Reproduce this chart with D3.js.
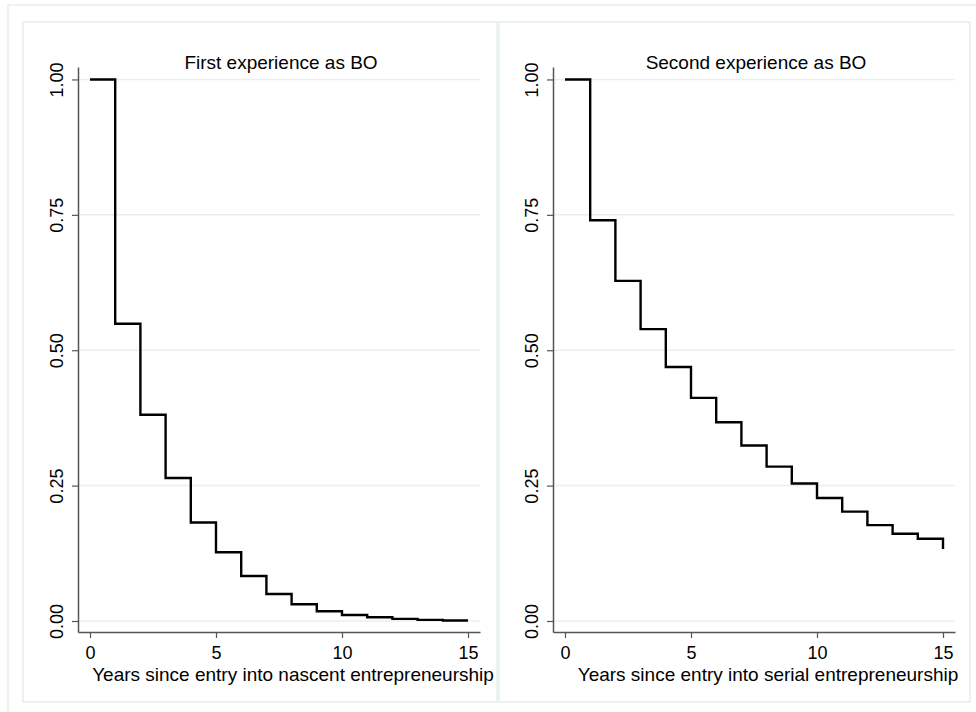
<!DOCTYPE html>
<html>
<head>
<meta charset="utf-8">
<script src="https://cdn.jsdelivr.net/npm/d3@7"></script>
<style>
  body { margin: 0; background: #fff; }
  text { font-family: "Liberation Sans", Arial, sans-serif; fill: #000; }
</style>
</head>
<body>
<script>
// values
const years = [0, 1, 2, 3, 4, 5, 6, 7, 8, 9, 10, 11, 12, 13, 14, 15];
const firstSurv = [1.000, 0.549, 0.381, 0.264, 0.182, 0.127, 0.083, 0.050, 0.031, 0.018, 0.011, 0.007, 0.004, 0.002, 0.001, 0.001];
const secondSurv = [1.000, 0.740, 0.628, 0.539, 0.469, 0.412, 0.367, 0.324, 0.285, 0.254, 0.227, 0.202, 0.177, 0.161, 0.152, 0.133];
const yTicks = [0, 0.25, 0.5, 0.75, 1];
const xTicks = [0, 5, 10, 15];
const titles = ["First experience as BO", "Second experience as BO"];
const xTitles = ["Years since entry into nascent entrepreneurship", "Years since entry into serial entrepreneurship"];

const WIDTH = 976, HEIGHT = 712;
const frameColor = "#e6edf0";

const svg = d3.select("body").append("svg")
    .attr("width", WIDTH)
    .attr("height", HEIGHT);

// outer frame (only top / left visible)
svg.append("rect")
    .attr("x", 8).attr("y", 5)
    .attr("width", WIDTH + 20).attr("height", HEIGHT + 20)
    .attr("fill", "none").attr("stroke", frameColor).attr("stroke-width", 1.5);

const panels = [
  {frame: [23, 22, 474, 680], left: 78, values: firstSurv},
  {frame: [499, 22, 471, 680], left: 553, values: secondSurv}
];

const PLOT_W = 402, TOP = 67, BOTTOM = 632;

panels.forEach((p, k) => {
  // panel frame
  svg.append("rect")
      .attr("x", p.frame[0]).attr("y", p.frame[1])
      .attr("width", p.frame[2]).attr("height", p.frame[3])
      .attr("fill", "#fff").attr("stroke", frameColor).attr("stroke-width", 1.5);

  const xScale = d3.scaleLinear()
      .domain([-0.476, 15.476])
      .range([p.left, p.left + PLOT_W]);

  const yScale = d3.scaleLinear()
      .domain([-0.0203, 1.023])
      .range([BOTTOM, TOP]);

  const g = svg.append("g");

  // gridlines
  g.selectAll(".grid")
    .data(yTicks)
    .enter()
    .append("line")
      .attr("x1", p.left).attr("x2", p.left + PLOT_W)
      .attr("y1", d => yScale(d)).attr("y2", d => yScale(d))
      .attr("stroke", "#e8eff1").attr("stroke-width", 1.5);

  // y-axis
  const yAxis = g.append("g")
      .attr("transform", "translate(" + p.left + ",0)")
      .call(d3.axisLeft(yScale).tickValues(yTicks).tickFormat(d3.format(".2f")).tickSize(6).tickSizeOuter(0));

  yAxis.selectAll("text")
      .attr("x", 0).attr("y", 0).attr("dy", 0)
      .attr("transform", "translate(-15,0) rotate(-90)")
      .attr("text-anchor", "middle")
      .style("font-size", "18px");

  // x-axis
  const xAxis = g.append("g")
      .attr("transform", "translate(0," + BOTTOM + ")")
      .call(d3.axisBottom(xScale).tickValues(xTicks).tickSize(6).tickSizeOuter(0));

  xAxis.selectAll("text")
      .attr("y", 27).attr("dy", 0)
      .style("font-size", "18px");

  [yAxis, xAxis].forEach(a => {
    a.select(".domain").attr("stroke", "#555").attr("stroke-width", 1.5);
    a.selectAll(".tick line").attr("stroke", "#555").attr("stroke-width", 1.2);
  });

  // survival step line
  const line = d3.line()
      .x((d, i) => xScale(years[i]))
      .y(d => yScale(d))
      .curve(d3.curveStepAfter);

  g.append("path")
      .datum(p.values)
      .attr("d", line)
      .attr("fill", "none")
      .attr("stroke", "#000")
      .attr("stroke-width", 2.4);

  // titles
  g.append("text")
      .attr("x", p.left + PLOT_W / 2 + 2)
      .attr("y", 69)
      .attr("text-anchor", "middle")
      .style("font-size", "19px")
      .text(titles[k]);

  g.append("text")
      .attr("x", xScale(7.5) + 14)
      .attr("y", 681)
      .attr("text-anchor", "middle")
      .style("font-size", "19px")
      .text(xTitles[k]);
});
</script>
</body>
</html>
